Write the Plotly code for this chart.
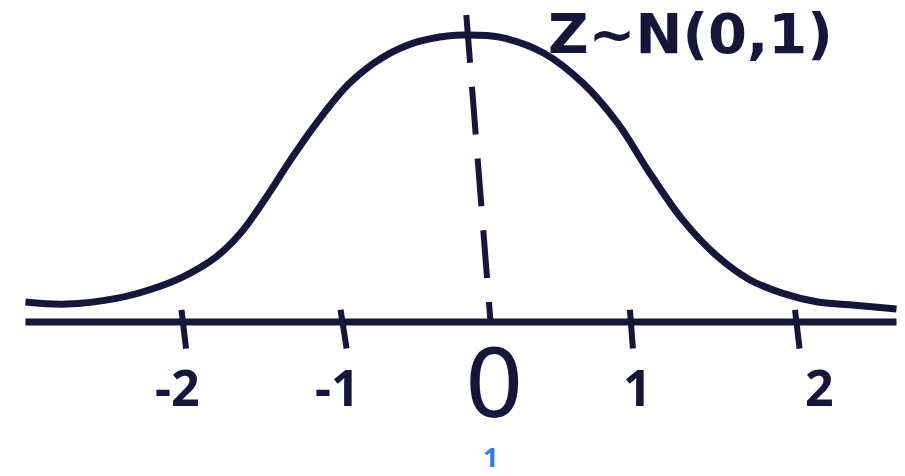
import plotly.graph_objects as go

# ---------------------------------------------------------
# Données lues sur le croquis (z, densité)
# ---------------------------------------------------------
curve_z = [-3.06, -2.79, -2.46, -2.24, -2.02, -1.80, -1.64, -1.47, -1.31, -1.14,
           -0.92, -0.70, -0.48, -0.26, -0.16, 0.07, 0.36, 0.62, 0.85, 1.06,
           1.28, 1.51, 1.72, 1.94, 2.17, 2.38, 2.69]
curve_y = [0.028, 0.025, 0.033, 0.045, 0.063, 0.091, 0.124, 0.174, 0.226, 0.277,
           0.333, 0.369, 0.390, 0.399, 0.400, 0.397, 0.375, 0.333, 0.277, 0.208,
           0.142, 0.091, 0.059, 0.040, 0.028, 0.024, 0.018]

axis_z = [-3.06, 2.69]
axis_y = [0.0, 0.0]

# ligne pointillée vers la moyenne
mean_z = [-0.15, 0.01]
mean_y = [0.428, 0.0]

tick_top = [-2.03, -0.98, 0.93, 2.02]
tick_bot = [-2.00, -0.94, 0.95, 2.05]
tick_labels = ["-2", "-1", "1", "2"]
zero_label = "0"
title_text = "Z~N(0,1)"
marker_text = "1"

INK = "#17163a"
BLUE = "#2a80e4"

fig = go.Figure()

# Courbe en cloche
fig.add_trace(go.Scatter(
    x=curve_z, y=curve_y, mode="lines",
    line=dict(color=INK, width=7, shape="spline", smoothing=1.0),
    hoverinfo="skip"
))

# Axe horizontal
fig.add_trace(go.Scatter(
    x=axis_z, y=axis_y, mode="lines",
    line=dict(color=INK, width=7),
    hoverinfo="skip"
))

# Graduations
tx, ty = [], []
for a, b in zip(tick_top, tick_bot):
    tx += [a, b, None]
    ty += [0.017, -0.037, None]
fig.add_trace(go.Scatter(
    x=tx, y=ty, mode="lines",
    line=dict(color=INK, width=6),
    hoverinfo="skip"
))

# Pointillés
fig.add_trace(go.Scatter(
    x=mean_z, y=mean_y, mode="lines",
    line=dict(color=INK, width=6, dash="48px,24px"),
    hoverinfo="skip"
))

# Étiquettes des graduations
label_shift = [-6, -6, 6, 22]
for a, b, lab, dx in zip(tick_top, tick_bot, tick_labels, label_shift):
    fig.add_annotation(
        x=(a + b) / 2, y=-0.09, text=lab, showarrow=False, xshift=dx,
        font=dict(family="Noto Sans", size=50, color=INK, weight="bold")
    )
fig.add_annotation(
    x=mean_z[1], y=-0.087, text=zero_label, showarrow=False, xshift=3,
    font=dict(family="DejaVu Sans", size=95, color=INK)
)
fig.add_annotation(
    x=mean_z[1], y=-0.188, text=marker_text, showarrow=False,
    font=dict(family="Noto Sans", size=27, color=BLUE, weight="bold")
)

# Titre Z~N(0,1)
fig.add_annotation(
    x=1.33, y=0.402, text=title_text, showarrow=False,
    font=dict(family="DejaVu Sans", size=56, color=INK, weight="bold")
)

fig.update_layout(
    width=905, height=476,
    margin=dict(l=0, r=0, t=0, b=0),
    paper_bgcolor="white", plot_bgcolor="white",
    showlegend=False,
    xaxis=dict(range=[-3.228, 2.746], visible=False, fixedrange=True),
    yaxis=dict(range=[-0.2146, 0.4488], visible=False, fixedrange=True),
)

# pas de marge de page autour du graphique, pas de barre d'outils
fig.write_html(
    "out.html",
    config={"displayModeBar": False},
    post_script="document.body.style.margin='0';"
)
